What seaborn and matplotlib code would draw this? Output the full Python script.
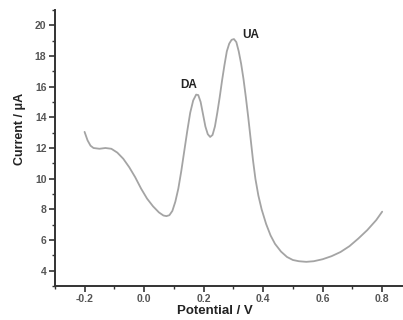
import matplotlib
matplotlib.use("Agg")
import matplotlib.pyplot as plt
import seaborn as sns
import pandas as pd
from matplotlib.ticker import MultipleLocator

potential = [-0.200, -0.190, -0.180, -0.170, -0.150, -0.130, -0.110, -0.090, -0.070, -0.050,
             -0.030, -0.010, 0.010, 0.030, 0.050, 0.065, 0.075, 0.085, 0.095, 0.105,
             0.115, 0.125, 0.135, 0.145, 0.155, 0.165, 0.175, 0.182, 0.190, 0.198,
             0.206, 0.214, 0.222, 0.230, 0.238, 0.246, 0.254, 0.262, 0.270, 0.278,
             0.286, 0.294, 0.302, 0.310, 0.318, 0.326, 0.334, 0.342, 0.350, 0.358,
             0.366, 0.374, 0.384, 0.395, 0.410, 0.425, 0.440, 0.460, 0.480, 0.500,
             0.520, 0.545, 0.570, 0.600, 0.630, 0.660, 0.690, 0.720, 0.750, 0.780, 0.800]
current = [13.05, 12.5, 12.15, 12.0, 11.95, 12.0, 11.95, 11.7, 11.3, 10.75,
           10.1, 9.35, 8.7, 8.2, 7.8, 7.6, 7.56, 7.62, 7.9, 8.5,
           9.35, 10.5, 11.8, 13.1, 14.3, 15.1, 15.48, 15.45, 15.0, 14.2,
           13.4, 12.9, 12.72, 12.85, 13.4, 14.3, 15.3, 16.4, 17.4, 18.3,
           18.8, 19.05, 19.1, 18.9, 18.3, 17.5, 16.5, 15.3, 14.0, 12.6,
           11.2, 10.0, 8.9, 8.0, 7.05, 6.3, 5.75, 5.25, 4.9, 4.7,
           4.62, 4.58, 4.62, 4.75, 4.95, 5.22, 5.6, 6.1, 6.65, 7.3, 7.85]

peak_labels = ["DA", "UA"]
peak_label_x = [0.151, 0.36]
peak_label_y = [16.1, 19.35]

x_ticks = [-0.2, 0.0, 0.2, 0.4, 0.6, 0.8]
y_ticks = [4, 6, 8, 10, 12, 14, 16, 18, 20]

sns.set_style("ticks")
plt.rcParams['font.family'] = ['Liberation Sans', 'DejaVu Sans']

df = pd.DataFrame({"Potential": potential, "Current": current})

fig = plt.figure(figsize=(4.03, 3.2), dpi=100)
ax = fig.add_axes([0.136, 0.106, 0.864, 0.863])
sns.lineplot(data=df, x="Potential", y="Current", ax=ax, color="#a4a4a4", linewidth=1.3, sort=False)

ax.set_xlim(-0.3, 0.87)
ax.set_ylim(3, 21)
ax.set_xticks(x_ticks)
ax.set_yticks(y_ticks)
ax.set_xticklabels([f"{v:.1f}" for v in x_ticks])
ax.xaxis.set_minor_locator(MultipleLocator(0.1))
ax.yaxis.set_minor_locator(MultipleLocator(1))
ax.tick_params(axis="both", which="major", direction="out", length=4, width=1.2,
               color="#333333", labelsize=7.5, labelcolor="#555555", pad=2)
ax.tick_params(axis="both", which="minor", direction="out", length=2.5, width=1.0, color="#333333")
for lbl in ax.get_xticklabels() + ax.get_yticklabels():
    lbl.set_fontweight("bold")

sns.despine(ax=ax)
for s in ["left", "bottom"]:
    ax.spines[s].set_linewidth(1.4)
    ax.spines[s].set_color("#333333")

ax.set_xlabel("Potential / V", fontsize=9.5, fontweight="bold", color="#222222")
ax.xaxis.set_label_coords(0.46, -0.068)
ax.set_ylabel("Current / μA", fontsize=9, fontweight="bold", color="#222222")
ax.yaxis.set_label_coords(-0.083, 0.57)

for t, x, y in zip(peak_labels, peak_label_x, peak_label_y):
    ax.text(x, y, t, fontsize=8.5, fontweight="bold", ha="center", va="center", color="#222222")

fig.savefig("out.png", dpi=100)
